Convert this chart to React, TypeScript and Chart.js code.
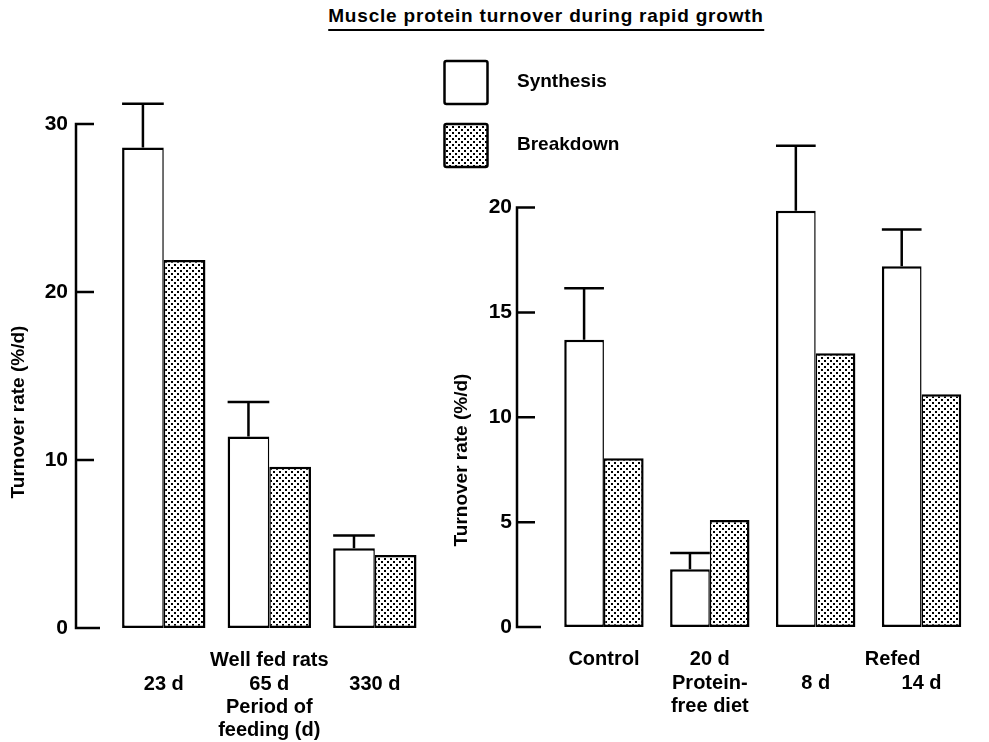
import React, { useEffect, useRef } from 'react'
import { Chart, registerables } from 'chart.js'

Chart.register(...registerables)

const FONT = '"Liberation Sans", Arial, Helvetica, sans-serif'

const chartTitle = 'Muscle protein turnover during rapid growth'
const seriesNames = ['Synthesis', 'Breakdown']
const yTitle = 'Turnover rate (%/d)'

// left panel: well fed rats, by period of feeding
const wellFedLabels = [
  ['', '23 d'],
  ['Well fed rats', '65 d', 'Period of', 'feeding (d)'],
  ['', '330 d'],
]
const wellFedSynthesis = [28.6, 11.4, 4.75]
const wellFedSynthesisErr = [2.6, 2.05, 0.75]
const wellFedBreakdown = [21.9, 9.6, 4.35]
const wellFedTicks = [0, 10, 20, 30]

// right panel: protein-free diet, then refeeding
const dietLabels = [['Control'], ['20 d', 'Protein-', 'free diet'], ['', '8 d'], ['', '14 d']]
const dietSynthesis = [13.7, 2.75, 19.85, 17.2]
const dietSynthesisErr = [2.45, 0.78, 3.1, 1.75]
const dietBreakdown = [8.05, 5.1, 13.05, 11.1]
const dietTicks = [0, 5, 10, 15, 20]
const refedLabel = 'Refed'

const LINE_H = 23.4
const LABEL_PAD = 21
const LABEL_SIZE = 20

function makeStipple(ctx: CanvasRenderingContext2D) {
  const c = document.createElement('canvas')
  c.width = 6
  c.height = 6
  const g = c.getContext('2d')!
  g.fillStyle = '#fff'
  g.fillRect(0, 0, 6, 6)
  g.fillStyle = '#000'
  g.fillRect(0, 0, 2, 2)
  g.fillRect(3, 3, 2, 2)
  return ctx.createPattern(c, 'repeat')!
}

interface PanelProps {
  left: number
  width: number
  labels: string[][]
  synthesis: number[]
  err: number[]
  breakdown: number[]
  ticks: number[]
  yMax: number
  padTop: number
  padRight: number
  xHeight: number
  tickPad: number
  axisGap: number
  catPct: number
  titleX: number
  titleY: number
  extra?: (chart: Chart, stipple: CanvasPattern) => void
}

function Panel(p: PanelProps) {
  const ref = useRef<HTMLCanvasElement>(null)

  useEffect(() => {
    const canvas = ref.current
    if (!canvas) return
    const ctx = canvas.getContext('2d')
    if (!ctx) return
    const stipple = makeStipple(ctx)

    const decor = {
      id: 'decor',
      afterDatasetsDraw(chart: Chart) {
        const { ctx, chartArea } = chart
        const y = chart.scales.y
        const axisX = chartArea.left - p.axisGap
        ctx.save()
        ctx.strokeStyle = '#000'
        ctx.lineWidth = 2.5
        // y axis with inward ticks
        ctx.beginPath()
        ctx.moveTo(axisX, y.getPixelForValue(p.ticks[p.ticks.length - 1]) - 1.25)
        ctx.lineTo(axisX, y.getPixelForValue(0) + 1.25)
        p.ticks.forEach((t) => {
          const py = y.getPixelForValue(t)
          ctx.moveTo(axisX, py)
          ctx.lineTo(axisX + (t === 0 ? 24 : 18), py)
        })
        ctx.stroke()
        // error bars on synthesis
        const meta = chart.getDatasetMeta(0)
        meta.data.forEach((bar: any, i: number) => {
          const top = y.getPixelForValue(p.synthesis[i] + p.err[i])
          const half = bar.width / 2
          ctx.beginPath()
          ctx.moveTo(bar.x, bar.y)
          ctx.lineTo(bar.x, top)
          ctx.moveTo(bar.x - half, top)
          ctx.lineTo(bar.x + half, top)
          ctx.stroke()
        })
        // y title
        ctx.fillStyle = '#000'
        ctx.font = `bold 19px ${FONT}`
        ctx.textAlign = 'center'
        ctx.textBaseline = 'middle'
        ctx.translate(p.titleX, p.titleY)
        ctx.rotate(-Math.PI / 2)
        ctx.fillText(yTitle, 0, 0)
        ctx.restore()
        if (p.extra) p.extra(chart, stipple)
      },
    }

    const chart = new Chart(canvas, {
      type: 'bar',
      data: {
        labels: p.labels,
        datasets: [
          {
            label: seriesNames[0],
            data: p.synthesis,
            backgroundColor: '#fff',
            borderColor: '#000',
            borderWidth: { top: 2.5, left: 2.5, bottom: 2.5, right: 1.5 },
            borderSkipped: false,
          },
          {
            label: seriesNames[1],
            data: p.breakdown,
            backgroundColor: stipple,
            borderColor: '#000',
            borderWidth: { top: 2.5, left: 1.5, bottom: 2.5, right: 2.5 },
            borderSkipped: false,
          },
        ],
      },
      options: {
        responsive: false,
        animation: false,
        layout: { padding: { top: p.padTop, right: p.padRight, left: 0, bottom: 0 } },
        datasets: { bar: { categoryPercentage: p.catPct, barPercentage: 1 } },
        plugins: { legend: { display: false }, tooltip: { enabled: false } },
        scales: {
          x: {
            grid: { display: false, drawTicks: false },
            border: { display: false },
            ticks: {
              color: '#000',
              font: { family: FONT, size: LABEL_SIZE, weight: 'bold', lineHeight: LINE_H / LABEL_SIZE },
              padding: LABEL_PAD,
              autoSkip: false,
              maxRotation: 0,
            },
            afterFit: (s: any) => {
              s.height = p.xHeight
            },
          },
          y: {
            min: 0,
            max: p.yMax,
            grid: { display: false, drawTicks: false },
            border: { display: false },
            ticks: {
              color: '#000',
              font: { family: FONT, size: 21, weight: 'bold' },
              padding: p.tickPad,
            },
            afterBuildTicks: (s: any) => {
              s.ticks = p.ticks.map((v) => ({ value: v }))
            },
            afterFit: (s: any) => {
              s.width = 111
            },
          },
        },
      },
      plugins: [decor as any],
    })
    return () => chart.destroy()
  }, [])

  return (
    <canvas
      ref={ref}
      width={p.width}
      height={742}
      style={{ position: 'absolute', left: p.left, top: 0 }}
    />
  )
}

function drawRightExtras(chart: Chart, stipple: CanvasPattern) {
  const { ctx, chartArea } = chart
  const x = chart.scales.x
  ctx.save()
  ctx.fillStyle = '#000'
  ctx.textBaseline = 'middle'
  // group label spanning the two refed bars
  ctx.font = `bold ${LABEL_SIZE}px ${FONT}`
  ctx.textAlign = 'center'
  const mid = (x.getPixelForValue(2) + x.getPixelForValue(3)) / 2 + 24
  ctx.fillText(refedLabel, mid, chartArea.bottom + LABEL_PAD + LINE_H / 2)
  // legend
  ctx.font = `bold 19px ${FONT}`
  ctx.lineWidth = 2.5
  ctx.strokeStyle = '#000'
  ctx.lineJoin = 'round'
  const boxes: [number, string | CanvasPattern, string][] = [
    [61, '#fff', seriesNames[0]],
    [124, stipple, seriesNames[1]],
  ]
  boxes.forEach(([top, fill, name]) => {
    ctx.fillStyle = fill
    ctx.beginPath()
    ctx.roundRect(4.5, top, 43, 43, 2)
    ctx.fill()
    ctx.stroke()
    ctx.fillStyle = '#000'
    ctx.textAlign = 'left'
    ctx.fillText(name, 77, top + 21)
  })
  ctx.restore()
}

export default function App() {
  return (
    <div
      style={{
        position: 'fixed',
        left: 0,
        top: 0,
        width: 989,
        height: 742,
        background: '#fff',
        overflow: 'hidden',
      }}
    >
      <div
        style={{
          position: 'absolute',
          left: 546,
          top: 6,
          transform: 'translateX(-50%)',
          whiteSpace: 'nowrap',
          fontFamily: FONT,
          fontSize: 19,
          fontWeight: 'bold',
          lineHeight: '19px',
          letterSpacing: 0.8,
          color: '#000',
          borderBottom: '2px solid #000',
          paddingBottom: 4,
        }}
      >
        {chartTitle}
      </div>
      <Panel
        left={0}
        width={440}
        labels={wellFedLabels}
        synthesis={wellFedSynthesis}
        err={wellFedSynthesisErr}
        breakdown={wellFedBreakdown}
        ticks={wellFedTicks}
        yMax={32}
        padTop={90.4}
        padRight={12.4}
        xHeight={114}
        tickPad={43}
        axisGap={35}
        catPct={0.79}
        titleX={18.5}
        titleY={412}
      />
      <Panel
        left={440}
        width={549}
        labels={dietLabels}
        synthesis={dietSynthesis}
        err={dietSynthesisErr}
        breakdown={dietBreakdown}
        ticks={dietTicks}
        yMax={24}
        padTop={123.7}
        padRight={14.5}
        xHeight={115}
        tickPad={39}
        axisGap={34}
        catPct={0.75}
        titleX={21.5}
        titleY={460}
        extra={drawRightExtras}
      />
    </div>
  )
}
